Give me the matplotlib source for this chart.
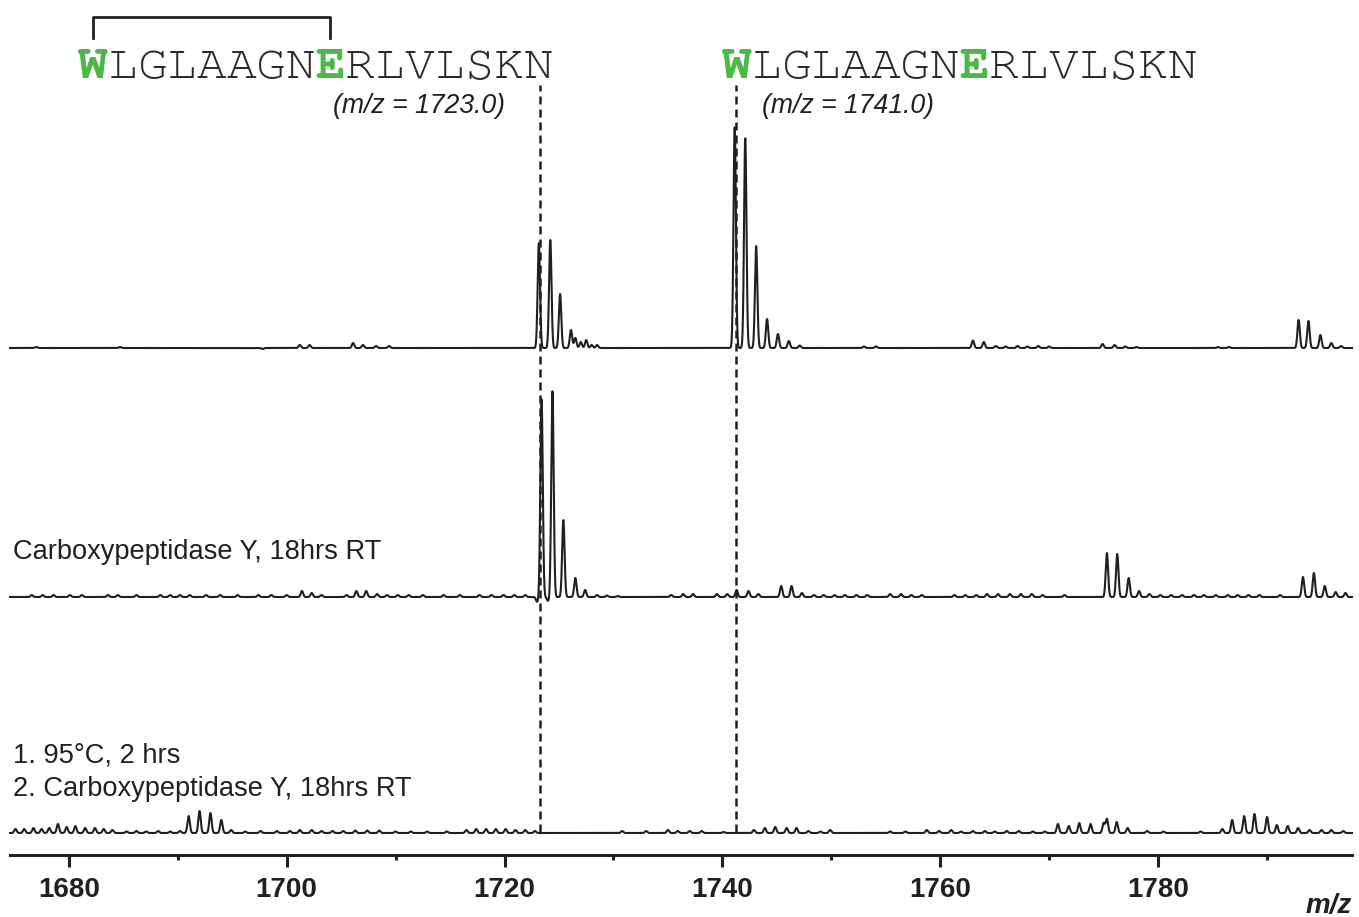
import numpy as np
import matplotlib
matplotlib.use("Agg")
import matplotlib.pyplot as plt
from matplotlib import font_manager
from matplotlib.lines import Line2D

W_PX, H_PX = 1359, 917

# m/z window shown on the axis
x_min, x_max = 1674.6, 1797.8
major_ticks = [1680, 1700, 1720, 1740, 1760, 1780]
minor_ticks = [1690, 1710, 1730, 1750, 1770, 1790]

# reference lines for the two species
ref_mz = [1723.3, 1741.25]
ref_labels = ["(m/z = 1723.0)", "(m/z = 1741.0)"]

sequence = "WLGLAAGNERLVLSKN"
highlight = [0, 8]

label_mid = "Carboxypeptidase Y, 18hrs RT"
label_bot = ["1. 95\u00b0C, 2 hrs", "2. Carboxypeptidase Y, 18hrs RT"]

# ---- peak lists (m/z, intensity) ----
top_mz = [1677.0, 1684.7, 1697.8, 1701.2, 1702.1, 1706.1, 1707.0, 1708.2, 1709.4,
          1723.15, 1724.2, 1725.1, 1726.1, 1726.5, 1727.0, 1727.5, 1728.0, 1728.5,
          1741.13, 1742.1, 1743.1, 1744.1, 1745.1, 1746.1, 1747.1,
          1753.0, 1754.1, 1763.0, 1764.0, 1765.1, 1766.0, 1767.1, 1768.0, 1769.0, 1770.0,
          1774.9, 1776.0, 1777.0, 1778.0, 1785.5, 1786.5,
          1792.9, 1793.8, 1794.9, 1795.9, 1796.8]
top_h = [1, 1, -1, 3, 3, 5, 3, 2, 2,
         105, 108, 54, 18, 10, 6, 8, 3, 3,
         221, 210, 102, 29, 14, 7, 2.5,
         1.5, 1.5, 7.5, 6, 2, 1.5, 2, 1.5, 2, 1.5,
         4, 3, 1.5, 1, 1, 1,
         28, 27, 13, 5, 2]

mid_mz = [1676.6, 1677.6, 1678.6, 1680.1, 1681.2, 1683.6, 1684.5, 1686.2, 1688.4, 1689.3,
          1690.2, 1691.1, 1692.6, 1693.9, 1695.5, 1697.4, 1698.6, 1700.0, 1701.4, 1702.3,
          1703.2, 1705.5, 1706.4, 1707.3, 1708.3, 1709.2, 1710.2, 1711.2, 1712.5, 1714.4,
          1715.9, 1717.7, 1718.8, 1719.9, 1720.9, 1721.9,
          1723.0, 1723.4, 1724.0, 1724.4, 1725.4, 1726.5, 1727.4, 1728.5, 1729.4, 1730.4,
          1735.3, 1736.4, 1737.3,
          1739.5, 1740.45, 1741.3, 1742.4, 1743.3, 1745.4, 1746.35, 1747.3,
          1748.4, 1749.3, 1750.3, 1751.25, 1752.3, 1753.3, 1755.4, 1756.4, 1757.35, 1758.3,
          1761.3, 1762.3, 1763.3, 1764.3, 1765.3, 1766.4, 1767.4, 1768.4, 1769.4, 1771.4,
          1775.3, 1776.25, 1777.3, 1778.25, 1779.2, 1780.2, 1781.2, 1782.2, 1783.3, 1784.2,
          1785.3, 1786.4, 1787.3, 1788.3, 1789.3, 1791.2,
          1793.3, 1794.3, 1795.3, 1796.3, 1797.2]
mid_h = [2, 2, 2, 2, 2, 2, 2, 2, 2, 2,
         2, 2, 2, 2, 2, 2, 2, 2, 6, 4,
         2, 2, 6, 6, 3, 2, 2, 2, 2, 2,
         2, 2, 2, 2, 2, 2,
         -5, 198, -4, 206, 77, 19, 7, 2, 1.5, 1,
         2, 3, 3,
         3, 3, 7, 6, 3, 11, 11, 4,
         2, 2, 2, 2, 2, 2, 3, 3, 2, 2,
         2, 2, 2, 3, 3, 3, 3, 3, 2, 2,
         44, 43, 19, 6, 3, 2, 2, 2, 2, 2,
         2, 2, 2, 2, 2, 2,
         20, 24, 11, 5, 4]

bot_mz = [1675.1, 1675.9, 1676.75, 1677.5, 1678.2, 1679.0, 1679.8, 1680.6, 1681.5, 1682.4, 1683.2, 1684.0,
          1685.3, 1686.2, 1687.1, 1688.2, 1689.3, 1690.2,
          1691.0, 1692.0, 1693.0, 1694.0, 1694.9,
          1696.2, 1697.6, 1699.1, 1700.3, 1701.2, 1702.3, 1703.2, 1704.2, 1705.2, 1706.3, 1707.4, 1708.5,
          1710.0, 1711.4, 1712.9, 1714.7,
          1716.5, 1717.4, 1718.3, 1719.2, 1720.1, 1721.0, 1721.9, 1722.8,
          1730.8, 1733.0, 1735.0, 1735.9, 1737.0, 1738.1, 1740.1,
          1742.9, 1743.9, 1744.85, 1745.9, 1746.8, 1747.9, 1749.0, 1749.9,
          1755.4, 1756.8, 1758.76, 1759.9, 1761.0, 1761.9, 1763.0, 1764.1, 1765.0, 1766.1, 1767.2, 1768.5, 1769.6,
          1770.8, 1771.8, 1772.76, 1773.8, 1775.0, 1775.3, 1776.2, 1777.2, 1779.0, 1780.5, 1783.9,
          1785.9, 1786.8, 1787.9, 1788.85, 1790.0, 1790.9, 1791.9, 1792.85, 1793.9, 1795.0, 1795.9, 1797.0]
bot_h = [4, 4, 5, 4, 5, 9, 6, 7, 5, 5, 4, 3,
         1.5, 2, 1.5, 2, 1.5, 2,
         17, 22, 20, 13, 3,
         1.5, 2, 2, 2, 3, 3, 2, 2, 2, 2.5, 2.5, 2.5,
         1.5, 1.5, 1.5, 1.5,
         3, 4, 4, 4, 4, 3, 3, 2,
         2, 2, 3, 2, 2, 2, 1,
         3, 5, 6, 5, 5, 2, 1.5, 3,
         1.5, 1.5, 3, 2, 3, 1.5, 2, 2, 1.5, 2, 2, 1.5, 1.5,
         9, 7, 10, 9, 10, 14, 11, 5, 2, 1.5, 1.5,
         4, 13, 17, 19, 16, 8, 7, 5, 3, 3, 3, 2]

assert len(top_mz) == len(top_h)
assert len(mid_mz) == len(mid_h)
assert len(bot_mz) == len(bot_h)

# vertical offsets of the stacked spectra
offsets = [507, 258, 22]

names = set(font_manager.get_font_names())
sans = "Liberation Sans" if "Liberation Sans" in names else "DejaVu Sans"
narrow = "Liberation Sans Narrow" if "Liberation Sans Narrow" in names else sans
mono = "Liberation Mono"
for cand in ["Courier New", "Nimbus Mono PS", "Nimbus Mono L", "FreeMono", "Courier"]:
    if cand in names:
        mono = cand
        break

ink = "#231f20"
green = "#4cb847"


def fx(px):
    return px / W_PX


def fy(py):
    return 1 - py / H_PX


def profile(grid, centers, heights, sigma=0.11):
    c = np.asarray(centers)[:, None]
    h = np.asarray(heights)[:, None]
    return (h * np.exp(-0.5 * ((grid[None, :] - c) / sigma) ** 2)).sum(axis=0)


fig = plt.figure(figsize=(W_PX / 100, H_PX / 100), dpi=100)
ax = fig.add_axes([fx(10), 62 / H_PX, (1352 - 10) / W_PX, 855 / H_PX])

grid = np.linspace(x_min, x_max, 9000)
for (mz, h), off in zip([(top_mz, top_h), (mid_mz, mid_h), (bot_mz, bot_h)], offsets):
    ax.plot(grid, off + profile(grid, mz, h), color=ink, lw=1.5, clip_on=False)

for m in ref_mz:
    ax.plot([m, m], [23, 770], color=ink, lw=1.8, ls=(0, (3.2, 2.0)))

ax.set_xlim(x_min, x_max)
ax.set_ylim(0, 855)
for s in ["top", "left", "right"]:
    ax.spines[s].set_visible(False)
ax.spines["bottom"].set_linewidth(2.2)
ax.spines["bottom"].set_color(ink)
ax.set_yticks([])
ax.set_xticks(major_ticks)
ax.set_xticks(minor_ticks, minor=True)
ax.tick_params(axis="x", which="major", length=8.6, width=2.2, color=ink, pad=7)
ax.tick_params(axis="x", which="minor", length=3.6, width=2.2, color=ink)
for lab in ax.get_xticklabels():
    lab.set_fontfamily(narrow)
    lab.set_fontweight("bold")
    lab.set_fontsize(20)
    lab.set_color(ink)

fig.text(fx(1352), fy(913), "m/z", family=sans, weight="bold", style="italic",
         size=20, color=ink, ha="right", va="baseline")

# peptide sequences with the cross-linked residues in green
char_w = 29.7
for x0 in (78, 722):
    for i, ch in enumerate(sequence):
        cx = x0 + char_w * (i + 0.5)
        if i in highlight:
            fig.text(fx(cx), fy(78), ch, family=mono, weight="bold", color=green,
                     size=35.6, ha="center", va="baseline")
        else:
            fig.text(fx(cx), fy(78), ch, family=mono, color="#2b2b2b",
                     size=35.6, ha="center", va="baseline")

# bracket joining W and E of the first sequence
bx0 = 78 + char_w * (highlight[0] + 0.5)
bx1 = 78 + char_w * (highlight[1] + 0.5)
fig.add_artist(Line2D([fx(bx0), fx(bx0), fx(bx1), fx(bx1)],
                      [fy(38), fy(17), fy(17), fy(38)],
                      transform=fig.transFigure, color=ink, lw=2.0))

for x0, txt in zip((333, 762), ref_labels):
    fig.text(fx(x0), fy(113), txt, family=sans, style="italic", size=19.2,
             color=ink, ha="left", va="baseline")

fig.text(fx(13), fy(559), label_mid, family=sans, size=19.6, color=ink,
         ha="left", va="baseline")
fig.text(fx(13), fy(763), label_bot[0], family=sans, size=19.6, color=ink,
         ha="left", va="baseline")
fig.text(fx(13), fy(796), label_bot[1], family=sans, size=19.6, color=ink,
         ha="left", va="baseline")

fig.savefig("out.png", dpi=100, facecolor="white")
